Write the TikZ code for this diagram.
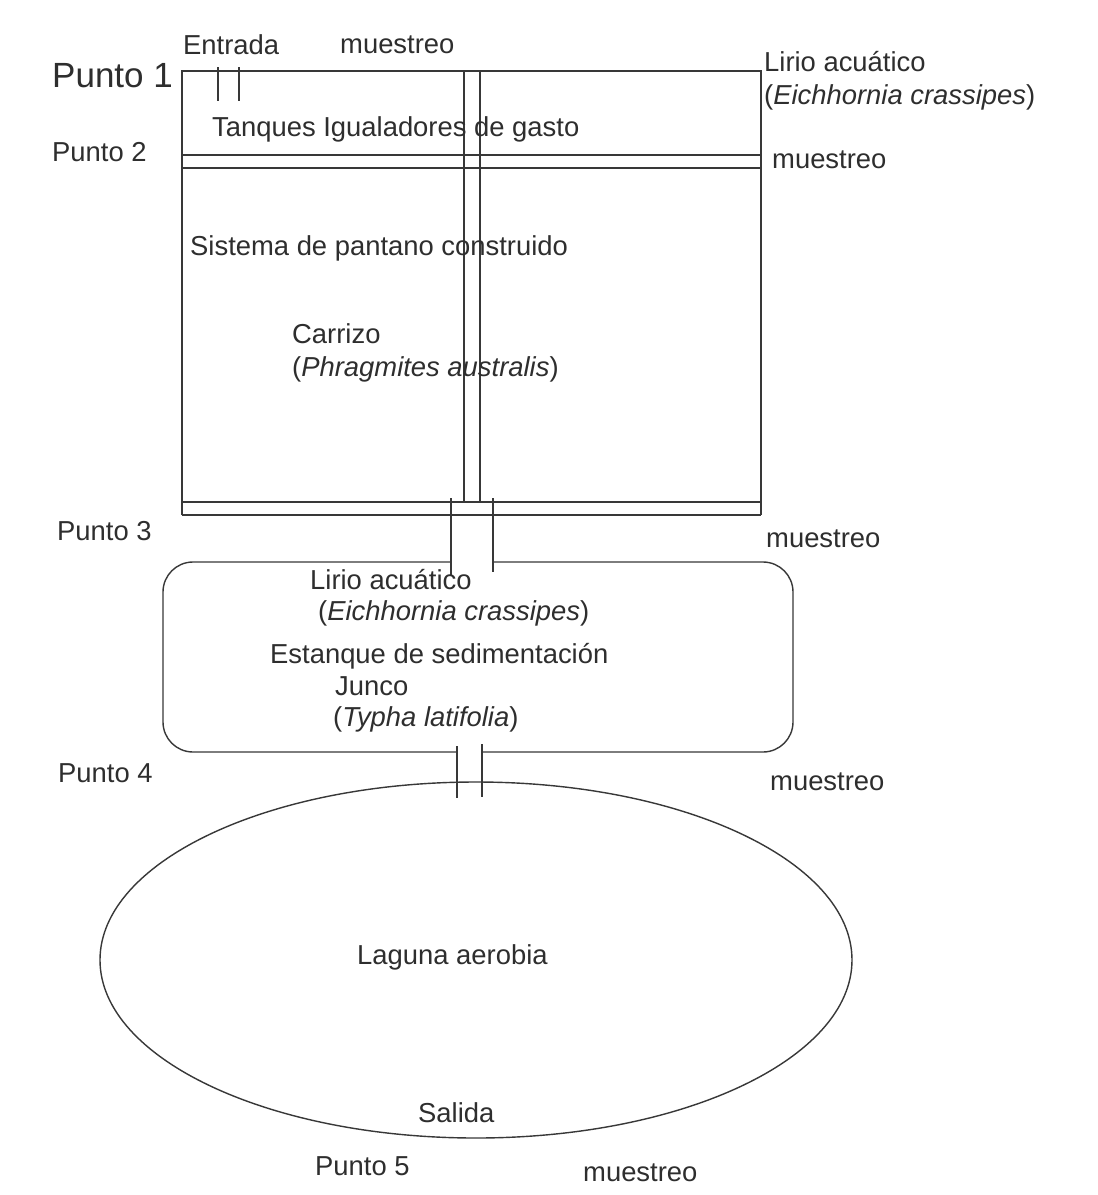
\documentclass[tikz,border=0pt]{standalone}
\usepackage{fontspec}
\setmainfont{Liberation Sans}
\begin{document}
\begin{tikzpicture}[x=1pt,y=-1pt,
  wall/.style={draw=black!78, line width=1.4pt},
  lbl/.style={anchor=base west, inner sep=0pt, text=black!82, font=\fontsize{27.4}{32}\selectfont},
  biglbl/.style={lbl, font=\fontsize{35}{40}\selectfont}]
\useasboundingbox (0,0) rectangle (1098,1195);
\fill[white] (0,0) rectangle (1098,1195);

% Upper structure: tanks and constructed wetland
\draw[wall] (182,515) -- (182,71) -- (761,71) -- (761,515);
\draw[wall] (182,155) -- (761,155);
\draw[wall] (182,168) -- (761,168);
\draw[wall] (182,502) -- (761,502);
\draw[wall] (182,515) -- (761,515);
% inlet
\draw[wall] (218,67) -- (218,101);
\draw[wall] (239,67) -- (239,101);
% central pipe
\draw[wall] (464,71) -- (464,502);
\draw[wall] (480,71) -- (480,502);
% pipe to pond
\draw[wall] (451,498) -- (451,575);
\draw[wall] (493,498) -- (493,572);

% Sedimentation pond
\draw[wall, rounded corners=30pt] (451,562) -- (163,562) -- (163,752) -- (457,752);
\draw[wall, rounded corners=30pt] (493,562) -- (793,562) -- (793,752) -- (482,752);
\draw[wall] (457,746) -- (457,798);
\draw[wall] (482,744) -- (482,797);

% Aerobic lagoon
\draw[wall] (476,960) ellipse [x radius=376, y radius=178];

% Labels
\node[lbl] (entrada) at (183,54) {Entrada};
\node[lbl] (m1) at (340,53) {muestreo};
\node[biglbl] (p1) at (52,87) {Punto 1};
\node[lbl] (lirio1) at (764,71) {Lirio acuático};
\node[lbl] (eich1) at (764,104) {(\textit{Eichhornia crassipes})};
\node[lbl] (tanq) at (212,136) {Tanques Igualadores de gasto};
\node[lbl] (p2) at (52,161) {Punto 2};
\node[lbl] (m2) at (772,168) {muestreo};
\node[lbl] (sist) at (190,255) {Sistema de pantano construido};
\node[lbl] (carr) at (292,343) {Carrizo};
\node[lbl] (phra) at (292,376) {(\textit{Phragmites australis})};
\node[lbl] (p3) at (57,540) {Punto 3};
\node[lbl] (m3) at (766,547) {muestreo};
\node[lbl] (lirio2) at (310,589) {Lirio acuático};
\node[lbl] (eich2) at (318,620) {(\textit{Eichhornia crassipes})};
\node[lbl] (estq) at (270,663) {Estanque de sedimentación};
\node[lbl] (junco) at (335,695) {Junco};
\node[lbl] (typha) at (333,726) {(\textit{Typha latifolia})};
\node[lbl] (p4) at (58,782) {Punto 4};
\node[lbl] (m4) at (770,790) {muestreo};
\node[lbl] (lag) at (357,964) {Laguna aerobia};
\node[lbl] (sal) at (418,1122) {Salida};
\node[lbl] (p5) at (315,1175) {Punto 5};
\node[lbl] (m5) at (583,1181) {muestreo};
\end{tikzpicture}
\end{document}
